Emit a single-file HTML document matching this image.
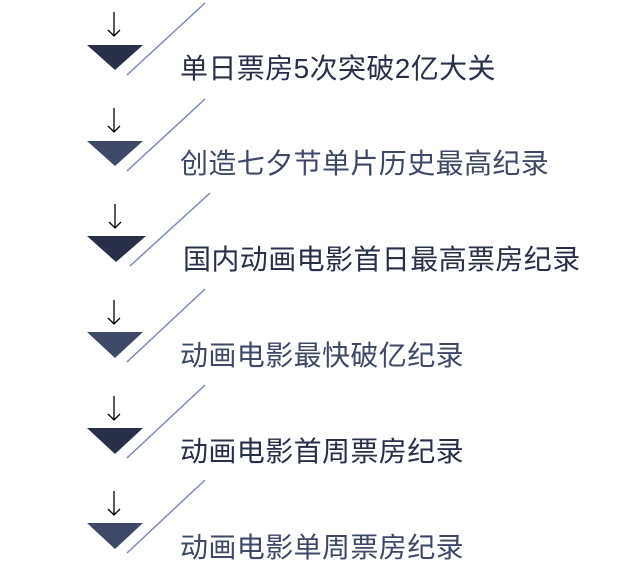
<!DOCTYPE html>
<html><head><meta charset="utf-8"><style>
body{margin:0;width:640px;height:571px;background:#fff;overflow:hidden;position:relative}
.t{position:absolute;font-family:"Liberation Sans","Noto Sans CJK SC",sans-serif;font-size:28px;line-height:28px;white-space:nowrap;letter-spacing:0.4px}
</style></head><body>
<svg width="640" height="571" style="position:absolute;left:0;top:0">
<polygon points="87,45 143,45 115,70" fill="#282f49"/>
<line x1="127" y1="75" x2="205" y2="3" stroke="#7a89b8" stroke-width="1.5"/>
<path d="M114,12V36M108,30L114,36L120,30" stroke="#000" fill="none" stroke-width="1.3"/>
<polygon points="87,141 143,141 115,166" fill="#3e4867"/>
<line x1="127" y1="171" x2="205" y2="99" stroke="#7a89b8" stroke-width="1.5"/>
<path d="M114,108V132M108,126L114,132L120,126" stroke="#000" fill="none" stroke-width="1.3"/>
<polygon points="87,236 146,236 116,262" fill="#282f49"/>
<line x1="130" y1="266" x2="210" y2="193" stroke="#7a89b8" stroke-width="1.5"/>
<path d="M115,204V228M109,222L115,228L121,222" stroke="#000" fill="none" stroke-width="1.3"/>
<polygon points="87,332 143,332 115,358" fill="#3e4867"/>
<line x1="127" y1="362" x2="205" y2="289" stroke="#7a89b8" stroke-width="1.5"/>
<path d="M114,300V324M108,318L114,324L120,318" stroke="#000" fill="none" stroke-width="1.3"/>
<polygon points="87,428 143,428 115,454" fill="#282f49"/>
<line x1="127" y1="458" x2="205" y2="385" stroke="#7a89b8" stroke-width="1.5"/>
<path d="M114,396V420M108,414L114,420L120,414" stroke="#000" fill="none" stroke-width="1.3"/>
<polygon points="87,523 143,523 115,549" fill="#3e4867"/>
<line x1="127" y1="553" x2="205" y2="480" stroke="#7a89b8" stroke-width="1.5"/>
<path d="M114,491V515M108,509L114,515L120,509" stroke="#000" fill="none" stroke-width="1.3"/>
</svg>
<div class="t" style="left:180px;top:55px;color:#282f49">单日票房5次突破2亿大关</div>
<div class="t" style="left:180px;top:150px;color:#3e4867">创造七夕节单片历史最高纪录</div>
<div class="t" style="left:183px;top:246px;color:#282f49">国内动画电影首日最高票房纪录</div>
<div class="t" style="left:180px;top:342px;color:#3e4867">动画电影最快破亿纪录</div>
<div class="t" style="left:180px;top:438px;color:#282f49">动画电影首周票房纪录</div>
<div class="t" style="left:180px;top:534px;color:#3e4867">动画电影单周票房纪录</div>
</body></html>
